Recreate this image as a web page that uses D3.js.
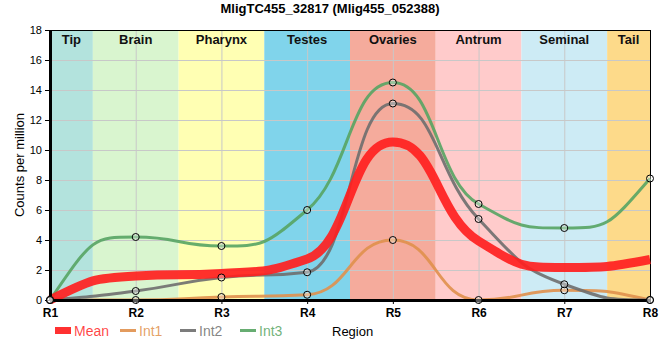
<!DOCTYPE html>
<html><head><meta charset="utf-8">
<script src="https://cdn.jsdelivr.net/npm/d3@7"></script>
<style>body{margin:0;background:#fff}svg{display:block;font-family:"Liberation Sans",Arial,sans-serif}</style>
</head><body><svg id="c" width="660" height="360"></svg>
<script>
const categories = ["R1","R2","R3","R4","R5","R6","R7","R8"];
const regionNames = ["Tip","Brain","Pharynx","Testes","Ovaries","Antrum","Seminal","Tail"];
const regionColors = ["#b3e3dd","#d9f5cf","#ffffb3","#80d4eb","#f5ab9c","#ffcbcb","#cdebf5","#fdda8a"];
const int1 = [0, 0, 0.2, 0.35, 4.0, 0, 0.65, 0];
const int2 = [0, 0.6, 1.5, 1.85, 13.1, 5.4, 1.05, 0];
const int3 = [0, 4.2, 3.6, 6.0, 14.5, 6.4, 4.8, 8.1];
const meanVals = categories.map((c,i)=>(int1[i]+int2[i]+int3[i])/3);
const yTicks = [0,2,4,6,8,10,12,14,16,18];
const seriesNames = ["Mean","Int1","Int2","Int3"];
const seriesColors = ["#ff1f1f","#e0904c","#6e6e6e","#57a463"];

const svg = d3.select("#c");
const L=50,R=650,T=30,B=300;
const x = d3.scaleLinear().domain([0,categories.length-1]).range([L,R]);
const y = d3.scaleLinear().domain([0,18]).range([B,T]);

// monotone-slope cubic with wide control handles
function splinePath(vals){
  const k = 0.5;
  const px = vals.map((v,i)=>x(i)), py = vals.map(v=>y(v));
  const n = px.length, s = [], m = new Array(n).fill(0);
  for(let i=0;i<n-1;i++) s.push((py[i+1]-py[i])/(px[i+1]-px[i]));
  for(let i=1;i<n-1;i++){
    const h0=px[i]-px[i-1], h1=px[i+1]-px[i];
    const p=(s[i-1]*h1+s[i]*h0)/(h0+h1);
    m[i]=(Math.sign(s[i-1])+Math.sign(s[i]))*Math.min(Math.abs(s[i-1]),Math.abs(s[i]),0.5*Math.abs(p))||0;
  }
  m[0]=2*s[0]-m[1]; m[n-1]=2*s[n-2]-m[n-2];
  const path=d3.path();
  path.moveTo(px[0],py[0]);
  for(let i=0;i<n-1;i++){
    const h=px[i+1]-px[i];
    path.bezierCurveTo(px[i]+k*h, py[i]+k*h*m[i], px[i+1]-k*h, py[i+1]-k*h*m[i+1], px[i+1], py[i+1]);
  }
  return path.toString();
}

// bands
regionNames.forEach((n,i)=>{
  const x0 = x(Math.max(0,i-0.5)), x1 = x(Math.min(categories.length-1,i+0.5));
  svg.append("rect").attr("x",x0).attr("y",T).attr("width",x1-x0).attr("height",B-T).attr("fill",regionColors[i]);
});
// grid
const g = svg.append("g").attr("stroke","#c8c8c8").attr("stroke-width",1);
yTicks.forEach(t=>g.append("line").attr("x1",L).attr("x2",R).attr("y1",y(t)+0.5).attr("y2",y(t)+0.5));
categories.forEach((c,i)=>g.append("line").attr("x1",x(i)+0.5).attr("x2",x(i)+0.5).attr("y1",T).attr("y2",B));
// band labels
regionNames.forEach((n,i)=>{
  const x0 = x(Math.max(0,i-0.5)), x1 = x(Math.min(categories.length-1,i+0.5));
  svg.append("text").attr("x",(x0+x1)/2).attr("y",T+14).attr("text-anchor","middle")
    .attr("font-size",13).attr("font-weight","bold").attr("fill","#111").text(n);
});
// border
svg.append("rect").attr("x",L+0.5).attr("y",T+0.5).attr("width",R-L).attr("height",B-T).attr("fill","none").attr("stroke","#000");

const allSeries = [meanVals,int1,int2,int3];
[1,2,3].forEach(k=>{
  svg.append("path").attr("d",splinePath(allSeries[k])).attr("fill","none")
   .attr("stroke",seriesColors[k]).attr("stroke-width",3).attr("stroke-opacity",0.9);
});
svg.append("path").attr("d",splinePath(meanVals)).attr("fill","none")
  .attr("stroke",seriesColors[0]).attr("stroke-width",9).attr("stroke-opacity",0.92);

// axes
const yAxis = d3.axisLeft(y).tickValues(yTicks).tickSize(5).tickSizeOuter(0);
const ya = svg.append("g").attr("transform",`translate(${L},0)`).call(yAxis);
ya.select(".domain").attr("stroke-width",3);
ya.selectAll("text").attr("font-size",11).attr("fill","#000").attr("font-family","Liberation Sans, Arial");
const xAxis = d3.axisBottom(x).tickValues(d3.range(categories.length)).tickFormat(i=>categories[i]).tickSize(4).tickSizeOuter(0);
const xa = svg.append("g").attr("transform",`translate(0,${B})`).call(xAxis);
xa.select(".domain").attr("stroke-width",3);
xa.selectAll("text").attr("font-size",12).attr("font-weight","bold").attr("fill","#000").attr("dy","0.85em").attr("font-family","Liberation Sans, Arial");

// points
[1,2,3].forEach(k=>{
  svg.append("g").selectAll("circle").data(allSeries[k]).join("circle")
    .attr("cx",(d,i)=>x(i)).attr("cy",d=>y(d)).attr("r",3.5)
    .attr("fill","#fff").attr("fill-opacity",0.35).attr("stroke","#000").attr("stroke-width",1);
});

// title
svg.append("text").attr("x",330).attr("y",13).attr("text-anchor","middle").attr("font-size",13)
  .attr("font-weight","bold").text("MligTC455_32817 (Mlig455_052388)");
svg.append("text").attr("transform","translate(24,165) rotate(-90)").attr("text-anchor","middle")
  .attr("font-size",13).text("Counts per million");
svg.append("text").attr("x",332).attr("y",336).attr("font-size",13).text("Region");

// legend
const lx = [55,120,180,240];
seriesNames.forEach((n,k)=>{
  if(k===0){
    svg.append("rect").attr("x",lx[k]).attr("y",327).attr("width",16).attr("height",7).attr("fill",seriesColors[0]).attr("fill-opacity",0.92);
  } else {
    svg.append("line").attr("x1",lx[k]).attr("x2",lx[k]+16).attr("y1",330.5).attr("y2",330.5)
      .attr("stroke",seriesColors[k]).attr("stroke-width",3).attr("stroke-opacity",0.9);
  }
  svg.append("text").attr("x",lx[k]+19).attr("y",335.5).attr("font-size",14)
    .attr("fill",seriesColors[k]).attr("fill-opacity",0.85).text(n);
});
</script></body></html>
